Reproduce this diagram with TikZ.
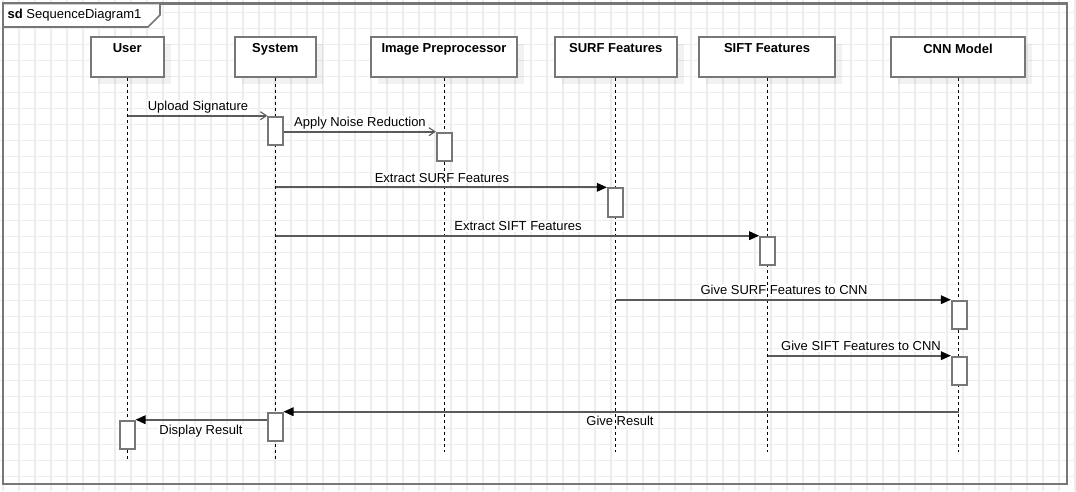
\documentclass[tikz,border=0pt]{standalone}
\usepackage{fontspec}
\setmainfont{Liberation Sans}
\usetikzlibrary{arrows.meta,shadows}
\definecolor{gridc}{HTML}{EDEDED}
\definecolor{framec}{HTML}{777777}
\definecolor{msgc}{HTML}{5A5A5A}
\begin{document}
\begin{tikzpicture}[x=1pt,y=-1pt,
  gridline/.style={draw=gridc, line width=1.6pt},
  lifebox/.style={draw=framec, line width=2.2pt, fill=white, inner sep=0pt,
    minimum height=40pt, minimum width=#1, anchor=north,
    drop shadow={shadow xshift=7pt, shadow yshift=-7pt, fill=black, opacity=0.05}},
  boxname/.style={font=\fontsize{13}{15}\selectfont\bfseries, inner sep=0pt, anchor=north},
  act/.style={draw=framec, line width=2pt, fill=white, inner sep=0pt,
    minimum width=14.6pt, minimum height=28.3pt, anchor=north},
  lifeline/.style={draw=black, line width=1pt, dash pattern=on 3pt off 3pt},
  msg/.style={draw=msgc, line width=1.8pt},
  filledtip/.style={-{Triangle[length=10pt,width=8.5pt,color=black]}},
  opentip/.style={-{Straight Barb[length=6pt,width=8pt,line width=1.1pt,color=msgc]}},
  msglabel/.style={font=\fontsize{13}{15}\selectfont, fill=white, inner sep=1pt, anchor=base}
]
\useasboundingbox (0,0) rectangle (1076,491);
\fill[white] (0,0) rectangle (1076,491);
% grid
\foreach \i in {0,...,67} \draw[gridline] ({2.7+16*\i},0) -- ({2.7+16*\i},491);
\foreach \j in {0,...,29} \draw[gridline] (0,{12.3+16*\j}) -- (1076,{12.3+16*\j});
% frame
\draw[framec, line width=2.2pt] (3,3.5) rectangle (1067,484);
\filldraw[draw=framec, fill=white, line width=1.6pt] (3,3.5) -- (160,3.5) -- (160,15) -- (148,27) -- (3,27) -- cycle;
\node[font=\fontsize{13}{15}\selectfont, anchor=base west, inner sep=0pt] (title) at (7.5,18.5) {\textbf{sd} SequenceDiagram1};

% lifeline heads (boxes)
\node[lifebox=73.3pt] (user) at (127.3,35.7) {};
\node[lifebox=81pt]   (sys)  at (275.3,35.7) {};
\node[lifebox=146pt]  (ip)   at (444,35.7) {};
\node[lifebox=122pt]  (surf) at (615.7,35.7) {};
\node[lifebox=136.7pt](sift) at (767,35.7) {};
\node[lifebox=134.3pt](cnn)  at (958,35.7) {};

% lifeline x positions
\coordinate (uL) at (127.7,0);
\coordinate (sL) at (275.7,0);
\coordinate (iL) at (444.7,0);
\coordinate (fL) at (615.7,0);
\coordinate (tL) at (767.7,0);
\coordinate (cL) at (958.7,0);

% activation positions
\coordinate (p1) at (275.7,115.7);
\coordinate (p2) at (444.2,131.7);
\coordinate (p3) at (615.2,187.3);
\coordinate (p4) at (767.5,235.7);
\coordinate (p5) at (959.2,299.7);
\coordinate (p6) at (959.2,355.7);
\coordinate (p7) at (275.2,411.7);
\coordinate (p8) at (127.2,419.7);

% labels
\node[msglabel] (l1) at (198,110.7) {Upload Signature};
\node[msglabel] (l2) at (360,126.7) {Apply Noise Reduction};
\node[msglabel] (l3) at (442,182.3) {Extract SURF Features};
\node[msglabel] (l4) at (518,230.7) {Extract SIFT Features};
\node[msglabel] (l5) at (784,294.7) {Give SURF Features to CNN};
\node[msglabel] (l6) at (861,350.7) {Give SIFT Features to CNN};
\node[msglabel] (l7) at (620,425.7) {Give Result};
\node[msglabel] (l8) at (201,434.3) {Display Result};

% lifelines
\draw[lifeline] (user.south) -- (user.south |- 0,461);
\draw[lifeline] (sL |- sys.south) -- (sL |- 0,461);
\draw[lifeline] (iL |- ip.south) -- (iL |- 0,452);
\draw[lifeline] (surf.south) -- (surf.south |- 0,452);
\draw[lifeline] (tL |- sift.south) -- (tL |- 0,452);
\draw[lifeline] (cL |- cnn.south) -- (cL |- 0,452);

% box names
\node[boxname] at ([yshift=-8pt]user.north) {User};
\node[boxname] at ([yshift=-8pt]sys.north) {System};
\node[boxname] at ([yshift=-8pt]ip.north) {Image Preprocessor};
\node[boxname] at ([yshift=-8pt]surf.north) {SURF Features};
\node[boxname] at ([yshift=-8pt]sift.north) {SIFT Features};
\node[boxname] at ([yshift=-8pt]cnn.north) {CNN Model};

% activations
\node[act] (a1) at (p1) {};
\node[act] (a2) at (p2) {};
\node[act] (a3) at (p3) {};
\node[act] (a4) at (p4) {};
\node[act] (a5) at (p5) {};
\node[act] (a6) at (p6) {};
\node[act] (a7) at (p7) {};
\node[act] (a8) at (p8) {};

% messages
\draw[msg, opentip]   (a1.north west -| uL) -- (a1.north west);
\draw[msg, opentip]   (a2.north west -| a1.east) -- (a2.north west);
\draw[msg, filledtip] (a3.north west -| sL) -- (a3.north west);
\draw[msg, filledtip] (a4.north west -| sL) -- (a4.north west);
\draw[msg, filledtip] (a5.north west -| fL) -- (a5.north west);
\draw[msg, filledtip] (a6.north west -| tL) -- (a6.north west);
\draw[msg, filledtip] (a7.north east -| cL) -- (a7.north east);
\draw[msg, filledtip] (a8.north east -| a7.west) -- (a8.north east);
\end{tikzpicture}
\end{document}
